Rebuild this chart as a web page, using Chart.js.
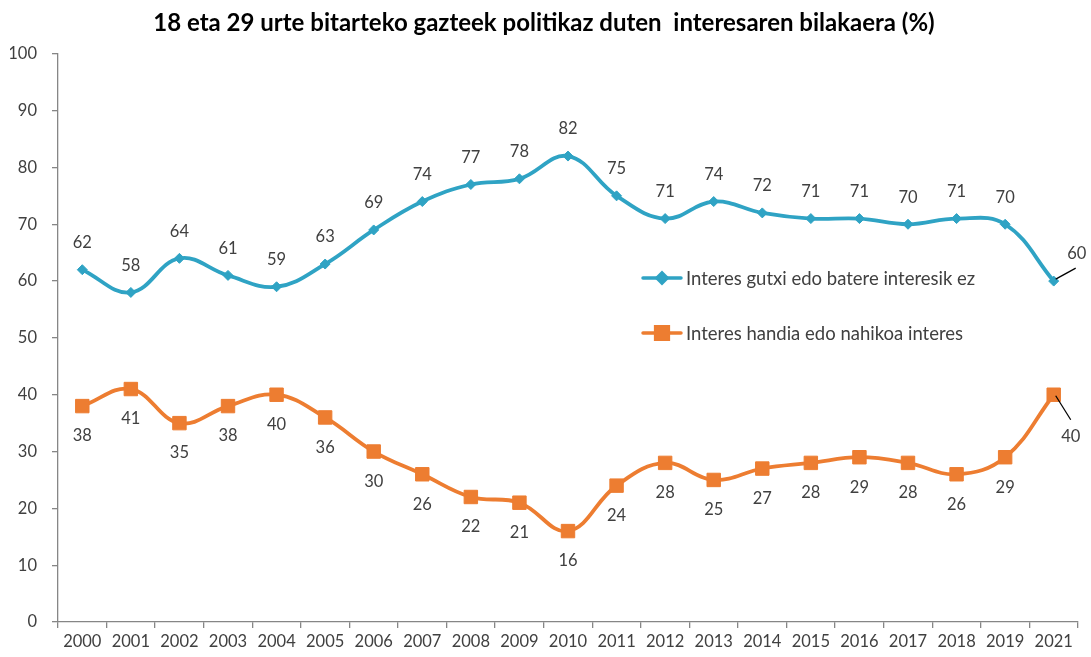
<!DOCTYPE html>
<html><head><meta charset="utf-8">
<script src="https://cdn.jsdelivr.net/npm/chart.js@4"></script>
<style>html,body{margin:0;padding:0;background:#fff}#wrap{width:1091px;height:657px;position:relative}</style>
</head><body><div id="wrap"><canvas id="c"></canvas></div>
<script>
const years = ['2000','2001','2002','2003','2004','2005','2006','2007','2008','2009','2010','2011','2012','2013','2014','2015','2016','2017','2018','2019','2021'];
const lowInterest = [62,58,64,61,59,63,69,74,77,78,82,75,71,74,72,71,71,70,71,70,60];
const highInterest = [38,41,35,38,40,36,30,26,22,21,16,24,28,25,27,28,29,28,26,29,40];
const seriesNames = ['Interes gutxi edo batere interesik ez','Interes handia edo nahikoa interes'];
const chartTitle = '18 eta 29 urte bitarteko gazteek politikaz duten  interesaren bilakaera (%)';
const yTicks = [0,10,20,30,40,50,60,70,80,90,100];

const BLUE = '#2fa3c4', ORANGE = '#ed7d31', TXT = '#404040';
const FONT = 'Lato, "Open Sans", sans-serif';

const labelPlugin = {
  id: 'valueLabels',
  afterDatasetsDraw(chart) {
    const ctx = chart.ctx;
    ctx.save();
    ctx.font = '16.5px ' + FONT;
    ctx.fillStyle = TXT;
    ctx.textAlign = 'center';
    ctx.textBaseline = 'middle';
    chart.data.datasets.forEach((ds, di) => {
      const meta = chart.getDatasetMeta(di);
      const last = ds.data.length - 1;
      meta.data.forEach((pt, j) => {
        const v = ds.data[j];
        let lx = pt.x, ly;
        if (j === last) {
          if (di === 0) {
            lx = pt.x + 23; ly = pt.y - 27;
            ctx.strokeStyle = '#000'; ctx.lineWidth = 1.3;
            ctx.beginPath(); ctx.moveTo(pt.x + 2, pt.y - 2); ctx.lineTo(pt.x + 22, pt.y - 13); ctx.stroke();
          } else {
            lx = pt.x + 17; ly = pt.y + 42;
            ctx.strokeStyle = '#000'; ctx.lineWidth = 1.3;
            ctx.beginPath(); ctx.moveTo(pt.x + 2, pt.y + 1); ctx.lineTo(pt.x + 17, pt.y + 25); ctx.stroke();
          }
        } else {
          ly = di === 0 ? pt.y - 27 : pt.y + 30;
        }
        ctx.fillText(String(v), lx, ly);
      });
    });
    ctx.restore();
  }
};

const legendPlugin = {
  id: 'insideLegend',
  afterDraw(chart) {
    const ctx = chart.ctx;
    const items = [{y: 278, c: BLUE, s: 'rectRot', r: 5}, {y: 333, c: ORANGE, s: 'rect', r: 9}];
    ctx.save();
    items.forEach((it, i) => {
      ctx.strokeStyle = it.c; ctx.lineWidth = 3.5; ctx.lineCap = 'round';
      ctx.beginPath(); ctx.moveTo(643, it.y); ctx.lineTo(681, it.y); ctx.stroke();
      ctx.fillStyle = it.c;
      Chart.helpers.drawPoint(ctx, {pointStyle: it.s, radius: it.r, borderWidth: 1}, 662, it.y);
      ctx.fill();
      ctx.fillStyle = TXT;
      ctx.font = '18.5px ' + FONT;
      ctx.textAlign = 'left'; ctx.textBaseline = 'middle';
      ctx.fillText(chart.data.datasets[i].label, 686, it.y + 1);
    });
    ctx.restore();
  }
};

new Chart(document.getElementById('c'), {
  type: 'line',
  data: {
    labels: years,
    datasets: [
      {label: seriesNames[0], data: lowInterest, borderColor: BLUE, backgroundColor: BLUE, borderWidth: 3.8,
       pointStyle: 'rectRot', pointRadius: 5, pointBorderWidth: 1, tension: 0.4},
      {label: seriesNames[1], data: highInterest, borderColor: ORANGE, backgroundColor: ORANGE, borderWidth: 3.8,
       pointStyle: 'rect', pointRadius: 9.5, pointBorderWidth: 1, tension: 0.4}
    ]
  },
  options: {
    responsive: true, maintainAspectRatio: false, animation: false,
    layout: {padding: {left: 10, right: 13, top: 0, bottom: 0}},
    plugins: {
      legend: {display: false}, tooltip: {enabled: false},
      title: {display: true, text: chartTitle, color: '#000',
        font: {family: FONT, size: 24, weight: 'bold'}, padding: {top: 9, bottom: 16}}
    },
    scales: {
      x: {
        offset: true,
        grid: {offset: true, drawOnChartArea: false, drawTicks: true, tickLength: 6, color: '#868686', lineWidth: 1.3},
        border: {color: '#868686', width: 1.3},
        ticks: {color: TXT, font: {family: FONT, size: 16.5}, padding: 4, maxRotation: 0, autoSkip: false},
        afterFit(s) { s.height = 35; }
      },
      y: {
        min: 0, max: 100,
        afterBuildTicks(s) { s.ticks = yTicks.map(v => ({value: v})); },
        grid: {drawOnChartArea: false, drawTicks: true, tickLength: 6, color: '#868686', lineWidth: 1.3},
        border: {color: '#868686', width: 1.3},
        ticks: {color: TXT, font: {family: FONT, size: 16.5}, padding: 15},
        afterFit(s) { s.width = 48; }
      }
    }
  },
  plugins: [labelPlugin, legendPlugin]
});
</script></body></html>
